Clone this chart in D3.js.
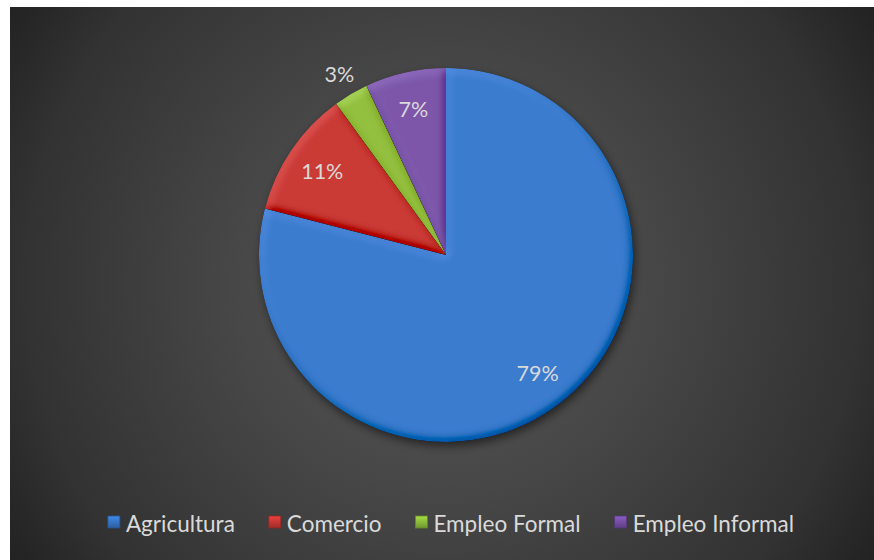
<!DOCTYPE html>
<html>
<head>
<meta charset="utf-8">
<script src="https://cdn.jsdelivr.net/npm/d3@7"></script>
<style>
  html, body { margin: 0; padding: 0; background: #ffffff; }
  svg { display: block; }
  text { font-family: Lato, "Open Sans", sans-serif; }
</style>
</head>
<body>
<script>
// Employment distribution by sector (percent)
const categories = ["Agricultura", "Comercio", "Empleo Formal", "Empleo Informal"];
const values = [79, 11, 3, 7];
const colors = ["#3a7bcd", "#c93a36", "#93bf40", "#7c57aa"];
const markerColors = ["#3370bd", "#bf3532", "#86b338", "#704c9e"];

const W = 874, H = 560;
const svg = d3.select("body").append("svg").attr("width", W).attr("height", H);
const defs = svg.append("defs");

// chart area background: radial dark gradient
const bg = defs.append("radialGradient").attr("id", "bgGrad")
  .attr("gradientUnits", "userSpaceOnUse")
  .attr("cx", 442).attr("cy", 283).attr("r", 525);
[[0, "#585858"], [0.4, "#474747"], [0.8, "#323232"], [1, "#202020"]]
  .forEach(([o, c]) => bg.append("stop").attr("offset", o).attr("stop-color", c));

// soft bevel lighting for slices (mostly multiplicative so edges keep their hue)
const bevel = defs.append("filter").attr("id", "bevel")
  .attr("x", "-5%").attr("y", "-5%").attr("width", "110%").attr("height", "110%");
bevel.append("feGaussianBlur").attr("in", "SourceAlpha").attr("stdDeviation", 4).attr("result", "b");
bevel.append("feDiffuseLighting").attr("in", "b").attr("surfaceScale", 3)
  .attr("diffuseConstant", 1).attr("lighting-color", "#ffffff").attr("result", "light")
  .append("feDistantLight").attr("azimuth", 235).attr("elevation", 55);
bevel.append("feComposite").attr("in", "SourceGraphic").attr("in2", "light")
  .attr("operator", "arithmetic").attr("k1", 0.8).attr("k2", 0.35).attr("k3", 0.15).attr("k4", -0.123)
  .attr("result", "lit");
bevel.append("feComposite").attr("in", "lit").attr("in2", "SourceAlpha").attr("operator", "in");

// soft drop shadow under the pie
const shadow = defs.append("filter").attr("id", "shadow")
  .attr("x", "-20%").attr("y", "-20%").attr("width", "140%").attr("height", "140%");
shadow.append("feGaussianBlur").attr("stdDeviation", 4);

// legend marker shading
const mkGrad = defs.selectAll("linearGradient.mk").data(markerColors).join("linearGradient")
  .attr("class", "mk").attr("id", (d, i) => "mk" + i)
  .attr("x1", 0).attr("y1", 0).attr("x2", 0).attr("y2", 1);
mkGrad.append("stop").attr("offset", 0).attr("stop-color", d => d3.color(d).brighter(0.6));
mkGrad.append("stop").attr("offset", 1).attr("stop-color", d => d3.color(d).darker(0.5));

svg.append("rect").attr("x", 10).attr("y", 7).attr("width", W - 10).attr("height", H - 7)
  .attr("fill", "url(#bgGrad)");

const cx = 446, cy = 255, R = 187;
const g = svg.append("g").attr("transform", `translate(${cx},${cy})`);

const pie = d3.pie().sort(null).value(d => d)(values);
const arc = d3.arc().innerRadius(0).outerRadius(R);

g.append("circle").attr("cx", 2).attr("cy", 4).attr("r", R)
  .attr("fill", "#000").attr("opacity", 0.5).attr("filter", "url(#shadow)");

g.selectAll("path.slice").data(pie).join("path")
  .attr("class", "slice")
  .attr("d", arc)
  .attr("fill", (d, i) => colors[i])
  .attr("filter", "url(#bevel)");

// data labels: inside for large slices, outside for the smallest
const inner = d3.arc().innerRadius(R * 0.8).outerRadius(R * 0.8);
const outer = d3.arc().innerRadius(R * 1.12).outerRadius(R * 1.12);
g.selectAll("text.lbl").data(pie).join("text")
  .attr("class", "lbl")
  .attr("transform", d => {
    const p = (d.data < 5 ? outer : inner).centroid(d);
    return `translate(${p[0]},${p[1]})`;
  })
  .attr("text-anchor", "middle")
  .attr("dy", "0.36em")
  .attr("font-size", 21.5)
  .attr("fill", "#dadada")
  .text(d => d.data + "%");

// legend along the bottom
const legend = svg.append("g").attr("class", "legend");
const items = legend.selectAll("g").data(categories).join("g");
items.append("rect").attr("width", 12).attr("height", 12).attr("y", -13)
  .attr("fill", (d, i) => `url(#mk${i})`)
  .attr("stroke", (d, i) => d3.color(markerColors[i]).darker(0.8)).attr("stroke-width", 0.8);
items.append("text").attr("x", 18).attr("y", 0).attr("dy", "0.12em")
  .attr("font-size", 22.5).attr("fill", "#dadada").text(d => d);

let x = 0;
const gap = 34;
items.each(function () {
  const w = this.getBBox().width;
  d3.select(this).attr("transform", `translate(${x},0)`);
  x += w + gap;
});
const total = x - gap;
legend.attr("transform", `translate(${451 - total / 2},529)`);
</script>
</body>
</html>
